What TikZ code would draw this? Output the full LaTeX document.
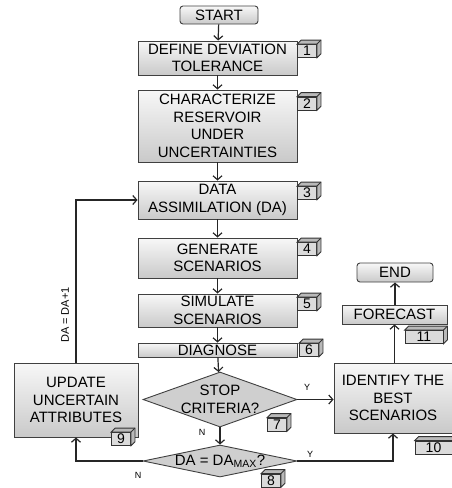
\documentclass[tikz,border=0pt]{standalone}
\usepackage{fontspec}
\setmainfont{Liberation Sans}
\usetikzlibrary{shapes.geometric,arrows.meta}
\tikzset{
  stepfont/.style={font=\fontsize{15}{17.5}\selectfont},
  stepbox/.style={draw=black!75, line width=0.9pt, top color=gray!6, bottom color=gray!42, align=center, stepfont, inner sep=0pt},
  mainbox/.style={stepbox, minimum width=159pt},
  termbox/.style={stepbox, rounded corners=3pt},
  decision/.style={diamond, draw=black!75, line width=0.9pt, fill=gray!38, inner sep=0pt},
  numtag/.style={draw=black!80, line width=0.8pt, fill=gray!28, minimum height=13pt, inner sep=0pt, font=\fontsize{14}{14}\selectfont},
  flow/.style={line width=1.2pt, black!85, -{Straight Barb[length=4pt,width=9pt]}},
  yesno/.style={font=\fontsize{9}{9}\selectfont},
}
% small 3d box with the step number
\newcommand{\tagbox}[4][19]{%
  \node[numtag, minimum width=#1pt] (#2) at (#3) {#4};
  \draw[black!80, line width=0.8pt, fill=gray!55] (#2.north west) -- ++(4,-4) -| ([shift={(4,-4)}]#2.south east) -- (#2.south east) -- (#2.north east) -- cycle;
  \draw[black!80, line width=0.8pt] (#2.north east) -- ++(4,-4);
}
\begin{document}
\begin{tikzpicture}[x=1pt,y=-1pt]
  \useasboundingbox (0,0) rectangle (452,488);
  % main column
  \node[termbox, minimum width=78pt, minimum height=18pt] (start) at (219,15) {START};
  \node[mainbox, minimum height=34pt] (s1) at (217.5,58) {DEFINE DEVIATION\\TOLERANCE};
  \node[mainbox, minimum height=72pt] (s2) at (217.5,126) {CHARACTERIZE\\RESERVOIR\\UNDER\\UNCERTAINTIES};
  \node[mainbox, minimum height=38pt] (s3) at (217.5,200) {DATA\\ASSIMILATION (DA)};
  \node[mainbox, minimum height=40pt] (s4) at (217.5,258) {GENERATE\\SCENARIOS};
  \node[mainbox, minimum height=33pt] (s5) at (217.5,310.5) {SIMULATE\\SCENARIOS};
  \node[mainbox, minimum height=14pt] (s6) at (217.5,350) {DIAGNOSE};
  \node[decision, minimum width=154pt, minimum height=55pt,
        label={[stepfont, align=center]center:STOP\\CRITERIA?}] (stop) at (220,399.5) {};
  \node[decision, minimum width=154pt, minimum height=32pt,
        label={[stepfont]center:DA = DA\textsubscript{MAX}?}] (damax) at (220,461) {};
  % side boxes
  \node[stepbox, minimum width=124pt, minimum height=74pt] (upd) at (76,400) {UPDATE\\UNCERTAIN\\ATTRIBUTES};
  \node[stepbox, minimum width=118pt, minimum height=70pt] (best) at (393,398) {IDENTIFY THE\\BEST\\SCENARIOS};
  \node[stepbox, minimum width=105pt, minimum height=19pt] (fcst) at (394.5,314.5) {FORECAST};
  \node[termbox, minimum width=76pt, minimum height=19pt] (stop end) at (395,272.5) {END};
  % step numbers
  \tagbox{t1}{307,51}{1}
  \tagbox{t2}{307,103.5}{2}
  \tagbox{t3}{307,193}{3}
  \tagbox{t4}{307,249}{4}
  \tagbox{t5}{307,304}{5}
  \tagbox{t6}{309,350}{6}
  \tagbox{t7}{277,424.5}{7}
  \tagbox{t8}{271,480.5}{8}
  \tagbox{t9}{121,439}{9}
  \tagbox[38]{t11}{424,337}{11}
  \tagbox[37]{t10}{433.5,447.5}{10}
  % connectors
  \draw[flow] (start) -- (s1);
  \draw[flow] (s1) -- (s2);
  \draw[flow] (s2) -- (s3);
  \draw[flow] (s3) -- (s4);
  \draw[flow] (s4) -- (s5);
  \draw[flow] (s5) -- (s6);
  \draw[flow] (s6) -- (stop);
  \draw[flow] (stop) -- (damax);
  \draw[flow] (stop.east) -- (best.west |- stop.east);
  \draw[flow] (damax.west) -| (upd.south);
  \draw[flow] (damax.east) -| (best.south);
  \draw[flow] (upd.north) |- (s3.west);
  \draw[flow] (best.north -| fcst.south) -- (fcst.south);
  \draw[flow] (fcst.north -| stop end.south) -- (stop end.south);
  % branch labels
  \node[yesno] (y1) at (307,387) {Y};
  \node[yesno] (n1) at (202,432) {N};
  \node[yesno] (n2) at (138,475) {N};
  \node[yesno] (y2) at (310,454) {Y};
  \node[rotate=90, font=\fontsize{11}{11}\selectfont] (incr) at (65,315) {DA = DA+1};
\end{tikzpicture}
\end{document}
